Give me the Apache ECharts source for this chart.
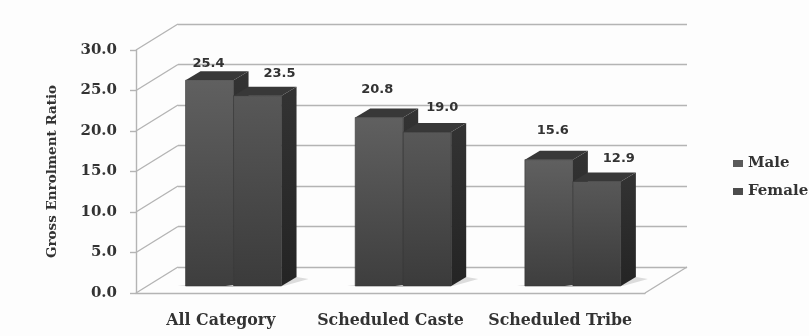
<!DOCTYPE html>
<html>
<head>
<meta charset="utf-8">
<style>html,body{margin:0;padding:0;background:#fdfdfd}#chart{width:809px;height:336px}</style>
<script src="https://cdn.jsdelivr.net/npm/echarts@6/dist/echarts.min.js"></script>
</head>
<body>
<div id="chart"></div>
<script>
// Gross Enrolment Ratio by social category and sex
const categories = ['All Category', 'Scheduled Caste', 'Scheduled Tribe'];
const maleValues = [25.4, 20.8, 15.6];
const femaleValues = [23.5, 19.0, 12.9];
const axisTicks = [0, 5, 10, 15, 20, 25, 30];

// Hand placement of the value labels relative to each bar's top centre
const maleLabelNudge = [[-1, -17], [-2, -28], [4, -29]];
const femaleLabelNudge = [[22, -22], [15, -24], [22, -23]];

// Pseudo-3D geometry in pixels
const WALL_DX = 42, WALL_DY = -26;   // front plane to back wall
const BAR_DX = 15, BAR_DY = -9;      // bar depth
const BAR_W = 48;
const BAR_SHIFT_X = 12.7, BAR_SHIFT_Y = -7;  // bar front face relative to floor front edge

const GRID = '#b4b4b4';
const SERIF = '"DejaVu Serif", serif';
const TEXT = '#333';

function poly(points, fill, extra) {
  return Object.assign({ type: 'polygon', shape: { points }, style: { fill } }, extra || {});
}

function barRenderer(side, front, nudges) {
  return function (params, api) {
    const i = api.value(0), v = api.value(1);
    const topPt = api.coord([i, v]), basePt = api.coord([i, 0]);
    const x0 = topPt[0] + BAR_SHIFT_X + (side < 0 ? -BAR_W : 0);
    const x1 = x0 + BAR_W;
    const yt = topPt[1] + BAR_SHIFT_Y;
    const yb = basePt[1] + BAR_SHIFT_Y;
    const nudge = nudges[params.dataIndex];
    const children = [
      // floor shadow
      poly([[x0 - 8, yb], [x1 + 2, yb], [x1 + 27, yb + BAR_DY + 2], [x1 + BAR_DX, yb + BAR_DY]], '#dcdcdc',
        { silent: true }),
      // side face
      poly([[x1, yt], [x1 + BAR_DX, yt + BAR_DY], [x1 + BAR_DX, yb + BAR_DY], [x1, yb]], {
        type: 'linear', x: 0, y: 0, x2: 0, y2: 1,
        colorStops: [{ offset: 0, color: '#333333' }, { offset: 1, color: '#242424' }]
      }),
      // top face
      poly([[x0, yt], [x0 + BAR_DX, yt + BAR_DY], [x1 + BAR_DX, yt + BAR_DY], [x1, yt]], '#383838'),
      // front face
      {
        type: 'rect',
        shape: { x: x0, y: yt, width: BAR_W, height: yb - yt },
        style: {
          fill: {
            type: 'linear', x: 0, y: 0, x2: 0, y2: 1,
            colorStops: [{ offset: 0, color: front[0] }, { offset: 1, color: front[1] }]
          },
          stroke: '#353535', lineWidth: 0.6
        }
      },
      {
        type: 'text',
        style: {
          x: x0 + BAR_W / 2 + nudge[0],
          y: yt + nudge[1],
          text: v.toFixed(1),
          align: 'center',
          verticalAlign: 'middle',
          fill: TEXT,
          font: 'bold 13px "DejaVu Sans", sans-serif'
        }
      }
    ];
    return { type: 'group', children };
  };
}

function depthRenderer(params, api) {
  const v = api.value(0);
  const sys = params.coordSys;
  const y = api.coord([0, v])[1];
  const lineStyle = { stroke: GRID, lineWidth: 1.4, fill: 'none' };
  const left = {
    type: 'line',
    shape: { x1: sys.x, y1: y, x2: sys.x + WALL_DX, y2: y + WALL_DY },
    style: lineStyle
  };
  const children = [left];
  if (v === 0) {
    children.push({
      type: 'line',
      shape: { x1: sys.x + sys.width, y1: y, x2: sys.x + sys.width + WALL_DX, y2: y + WALL_DY },
      style: lineStyle
    });
  }
  return { type: 'group', children };
}

const chart = echarts.init(document.getElementById('chart'), null, { renderer: 'canvas' });

chart.setOption({
  animation: false,
  backgroundColor: '#fdfdfd',
  grid: [
    { left: 136, top: 50, width: 509, height: 243 },
    { left: 178, top: 24, width: 509, height: 243 }
  ],
  xAxis: [
    {
      gridIndex: 0, type: 'category', data: categories,
      axisTick: { show: false },
      axisLine: { lineStyle: { color: GRID, width: 1.4 } },
      axisLabel: {
        margin: 20, color: TEXT, fontFamily: SERIF, fontWeight: 'bold', fontSize: 15.8, interval: 0
      }
    },
    {
      gridIndex: 1, type: 'category', data: categories,
      axisTick: { show: false }, axisLine: { show: false }, axisLabel: { show: false }
    }
  ],
  yAxis: [
    {
      gridIndex: 0, type: 'value', min: 0, max: 30, interval: 5,
      name: 'Gross Enrolment Ratio',
      nameLocation: 'middle', nameGap: 77,
      nameTextStyle: { color: TEXT, fontFamily: SERIF, fontWeight: 'bold', fontSize: 13.5 },
      axisLine: { show: true, lineStyle: { color: GRID, width: 1.4 } },
      axisTick: { show: true, length: 6, lineStyle: { color: GRID, width: 1.4 } },
      splitLine: { show: false },
      axisLabel: {
        margin: 19, color: TEXT, fontFamily: SERIF, fontWeight: 'bold', fontSize: 15,
        formatter: (v) => v.toFixed(1)
      }
    },
    {
      gridIndex: 1, type: 'value', min: 0, max: 30, interval: 5,
      axisLine: { show: false }, axisTick: { show: false }, axisLabel: { show: false },
      splitLine: { show: true, lineStyle: { color: GRID, width: 1.4 } }
    }
  ],
  legend: {
    orient: 'vertical', left: 733, top: 156, itemGap: 13, padding: 0,
    itemWidth: 10, itemHeight: 7, icon: 'rect',
    data: ['Male', 'Female'],
    textStyle: { color: TEXT, fontFamily: SERIF, fontWeight: 'bold', fontSize: 15, padding: [0, 0, 0, 0] }
  },
  series: [
    {
      type: 'custom', name: 'wall depth', xAxisIndex: 0, yAxisIndex: 0, z: 1, silent: true,
      coordinateSystem: 'cartesian2d',
      renderItem: depthRenderer,
      data: axisTicks.map((t) => [t]),
      encode: { y: 0 }
    },
    {
      type: 'custom', name: 'Male', xAxisIndex: 0, yAxisIndex: 0, z: 3,
      itemStyle: { color: '#5a5a5a' },
      renderItem: barRenderer(-1, ['#606060', '#3e3e3e'], maleLabelNudge),
      data: maleValues.map((v, i) => [i, v]),
      encode: { x: 0, y: 1 }
    },
    {
      type: 'custom', name: 'Female', xAxisIndex: 0, yAxisIndex: 0, z: 4,
      itemStyle: { color: '#4c4c4c' },
      renderItem: barRenderer(1, ['#585858', '#3b3b3b'], femaleLabelNudge),
      data: femaleValues.map((v, i) => [i, v]),
      encode: { x: 0, y: 1 }
    }
  ]
});
</script>
</body>
</html>
